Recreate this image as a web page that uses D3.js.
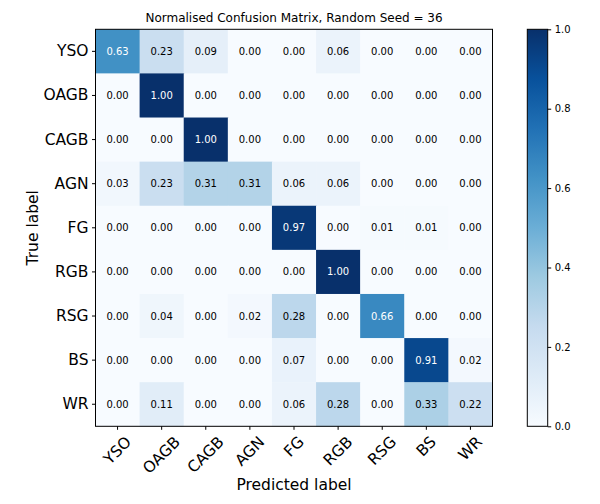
<!DOCTYPE html>
<html>
<head>
<meta charset="utf-8">
<script src="https://d3js.org/d3.v7.min.js"></script>
<style>
  body { margin: 0; background: #fff; }
  text { font-family: "DejaVu Sans", sans-serif; }
</style>
</head>
<body>
<script>
var classes = ['YSO', 'OAGB', 'CAGB', 'AGN', 'FG', 'RGB', 'RSG', 'BS', 'WR'];
var matrix = [
  [0.63, 0.23, 0.09, 0.00, 0.00, 0.06, 0.00, 0.00, 0.00],
  [0.00, 1.00, 0.00, 0.00, 0.00, 0.00, 0.00, 0.00, 0.00],
  [0.00, 0.00, 1.00, 0.00, 0.00, 0.00, 0.00, 0.00, 0.00],
  [0.03, 0.23, 0.31, 0.31, 0.06, 0.06, 0.00, 0.00, 0.00],
  [0.00, 0.00, 0.00, 0.00, 0.97, 0.00, 0.01, 0.01, 0.00],
  [0.00, 0.00, 0.00, 0.00, 0.00, 1.00, 0.00, 0.00, 0.00],
  [0.00, 0.04, 0.00, 0.02, 0.28, 0.00, 0.66, 0.00, 0.00],
  [0.00, 0.00, 0.00, 0.00, 0.07, 0.00, 0.00, 0.91, 0.02],
  [0.00, 0.11, 0.00, 0.00, 0.06, 0.28, 0.00, 0.33, 0.22]
];
var cbTicks = [0, 0.2, 0.4, 0.6, 0.8, 1.0];
var blues = ['#f7fbff', '#deebf7', '#c6dbef', '#9ecae1', '#6baed6', '#4292c6', '#2171b5', '#08519c', '#08306b'];

var W = 600, H = 504;
var mLeft = 95.5, mTop = 29.3, size = 397;

var svg = d3.select('body').append('svg').attr('width', W).attr('height', H);

var x = d3.scaleBand().domain(classes).range([mLeft, mLeft + size]);
var y = d3.scaleBand().domain(classes).range([mTop, mTop + size]);
var color = d3.scaleLinear()
  .domain(blues.map(function (d, i) { return i / (blues.length - 1); }))
  .range(blues)
  .interpolate(d3.interpolateRgb);

var cells = [];
matrix.forEach(function (row, i) {
  row.forEach(function (v, j) { cells.push({ r: classes[i], c: classes[j], v: v }); });
});

svg.append('g').selectAll('rect')
  .data(cells).enter().append('rect')
  .attr('x', function (d) { return x(d.c); })
  .attr('y', function (d) { return y(d.r); })
  .attr('width', x.bandwidth() + 0.5)
  .attr('height', y.bandwidth() + 0.5)
  .attr('fill', function (d) { return color(d.v); });

svg.append('g').selectAll('text')
  .data(cells).enter().append('text')
  .attr('x', function (d) { return x(d.c) + x.bandwidth() / 2; })
  .attr('y', function (d) { return y(d.r) + y.bandwidth() / 2; })
  .attr('text-anchor', 'middle')
  .attr('dominant-baseline', 'central')
  .style('font-size', '10px')
  .attr('fill', function (d) { return d.v > 0.5 ? '#fff' : '#000'; })
  .text(function (d) { return d.v.toFixed(2); });

svg.append('rect')
  .attr('x', mLeft).attr('y', mTop).attr('width', size).attr('height', size)
  .attr('fill', 'none').attr('stroke', '#000').attr('stroke-width', 1);

// y axis
var yAxis = svg.append('g')
  .attr('transform', 'translate(' + mLeft + ',0)')
  .call(d3.axisLeft(y).tickSize(3.5).tickPadding(3.5));
yAxis.select('.domain').remove();
yAxis.selectAll('text').style('font-size', '15.5px').attr('fill', '#000');

// x axis
var xAxis = svg.append('g')
  .attr('transform', 'translate(0,' + (mTop + size) + ')')
  .call(d3.axisBottom(x).tickSize(3.5));
xAxis.select('.domain').remove();
xAxis.selectAll('text').each(function (d) {
  var t = d3.select(this);
  t.style('font-size', '15.5px').attr('fill', '#000')
    .attr('text-anchor', 'middle').attr('dy', null).attr('y', 0)
    .attr('dominant-baseline', 'central');
  var w = this.getComputedTextLength();
  var half = (w + 15.5 * 1.1) * Math.SQRT1_2 / 2;
  t.attr('transform', 'translate(0,' + (7 + half) + ') rotate(-45)');
});

svg.append('text')
  .attr('x', mLeft + size / 2).attr('y', 22)
  .attr('text-anchor', 'middle')
  .style('font-size', '12px')
  .text('Normalised Confusion Matrix, Random Seed = 36');

svg.append('text')
  .attr('x', mLeft + size / 2).attr('y', 490)
  .attr('text-anchor', 'middle')
  .style('font-size', '15.5px')
  .text('Predicted label');

svg.append('text')
  .attr('transform', 'translate(38,' + (mTop + size / 2) + ') rotate(-90)')
  .attr('text-anchor', 'middle')
  .style('font-size', '15.5px')
  .text('True label');

// colorbar
var cbX = 527.3, cbW = 20.4;
var cb = d3.scaleLinear().domain([0, 1]).range([mTop + size, mTop]);
var grad = svg.append('defs').append('linearGradient')
  .attr('id', 'cbgrad').attr('x1', 0).attr('y1', 1).attr('x2', 0).attr('y2', 0);
blues.forEach(function (c, i) {
  grad.append('stop').attr('offset', i / (blues.length - 1)).attr('stop-color', c);
});
svg.append('rect')
  .attr('x', cbX).attr('y', mTop).attr('width', cbW).attr('height', size)
  .attr('fill', 'url(#cbgrad)').attr('stroke', '#000').attr('stroke-width', 1);
var cbAxis = svg.append('g')
  .attr('transform', 'translate(' + (cbX + cbW) + ',0)')
  .call(d3.axisRight(cb).tickValues(cbTicks).tickFormat(d3.format('.1f')).tickSize(3.5).tickPadding(3.5));
cbAxis.select('.domain').remove();
cbAxis.selectAll('text').style('font-size', '10px').attr('fill', '#000');
</script>
</body>
</html>
